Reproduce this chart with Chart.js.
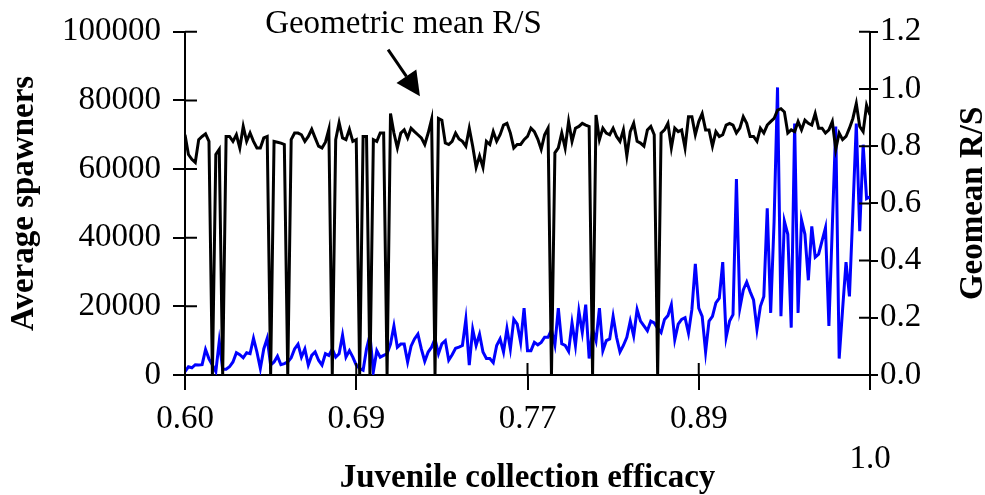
<!DOCTYPE html>
<html>
<head>
<meta charset="utf-8">
<script src="https://cdn.jsdelivr.net/npm/chart.js@4.4.1/dist/chart.umd.min.js"></script>
<style>
  html, body { margin: 0; padding: 0; background: #fff; }
  #wrap { width: 985px; height: 495px; }
</style>
</head>
<body>
<div id="wrap"><canvas id="chart" width="985" height="495"></canvas></div>
<script>
// x axis: 201 simulation runs, labelled every 50th run
const xTickLabels = ['0.60', '0.69', '0.77', '0.89', '1.0'];
const xTickStep = 50;

// Geometric mean R/S (right axis)
const geomeanRS = [
  0.840, 0.771, 0.754, 0.743, 0.823, 0.834, 0.843, 0.817, 0, 0.771,
  0.789, 0, 0.834, 0.834, 0.817, 0.840, 0.794, 0.869, 0.817, 0.846,
  0.817, 0.794, 0.794, 0.829, 0.834, 0, 0.817, 0.814, 0.811, 0.806,
  0, 0.823, 0.846, 0.846, 0.840, 0.817, 0.834, 0.859, 0.829, 0.800,
  0.794, 0.814, 0.859, 0, 0.823, 0.882, 0.829, 0.823, 0.859, 0.817,
  0.823, 0, 0.834, 0.834, 0, 0.823, 0.817, 0.846, 0.846, 0,
  0.914, 0.846, 0.794, 0.846, 0.857, 0.829, 0.863, 0.851, 0.840, 0.829,
  0.806, 0.846, 0.894, 0, 0.897, 0.891, 0.811, 0.806, 0.817, 0.846,
  0.825, 0.817, 0.800, 0.863, 0.800, 0.726, 0.766, 0.726, 0.817, 0.806,
  0.851, 0.817, 0.840, 0.874, 0.880, 0.846, 0.794, 0.806, 0.806, 0.823,
  0.834, 0.863, 0.851, 0.825, 0.789, 0.840, 0.863, 0, 0.777, 0.794,
  0.846, 0.794, 0.886, 0.817, 0.863, 0.869, 0.880, 0.874, 0.869, 0,
  0.909, 0.823, 0.863, 0.846, 0.840, 0.863, 0.834, 0.817, 0.857, 0.766,
  0.851, 0.880, 0.817, 0.811, 0.800, 0.857, 0.869, 0.840, 0, 0.846,
  0.857, 0.880, 0.794, 0.863, 0.851, 0.857, 0.794, 0.903, 0.903, 0.840,
  0.886, 0.914, 0.857, 0.857, 0.800, 0.851, 0.834, 0.840, 0.874, 0.880,
  0.874, 0.846, 0.863, 0.903, 0.880, 0.834, 0.834, 0.817, 0.863, 0.846,
  0.874, 0.886, 0.897, 0.926, 0.931, 0.920, 0.846, 0.857, 0.851, 0.886,
  0.857, 0.891, 0.880, 0.874, 0.914, 0.863, 0.863, 0.846, 0.857, 0.886,
  0.789, 0.846, 0.823, 0.834, 0.863, 0.897, 0.949, 0.869, 0.851, 0.943,
  0.909
];

// Average spawners (left axis)
const avgSpawners = [
  1000, 2400, 2100, 3000, 2900, 3000, 7400, 4700, 2900, 1000,
  9800, 1700, 1700, 2400, 3800, 6500, 5900, 5000, 6500, 6200,
  10700, 6700, 1900, 7600, 10700, 2900, 3800, 5500, 3000, 3300,
  3800, 5000, 7600, 9000, 5200, 7600, 2900, 5700, 6700, 4300,
  2900, 6200, 5700, 7600, 5200, 6200, 11600, 5200, 7100, 5200,
  2900, 1900, 1400, 7600, 11600, 1000, 7100, 5200, 5700, 6200,
  9000, 14300, 8100, 9000, 9000, 3800, 8400, 10500, 11900, 7600,
  4000, 6700, 8100, 10500, 6200, 9100, 10000, 4300, 5900, 7800,
  8100, 8600, 16200, 2900, 13300, 8600, 11900, 6700, 4800, 4800,
  3600, 8600, 10500, 6700, 13500, 7600, 16200, 14800, 9500, 19500,
  7100, 7100, 9500, 8800, 9500, 11000, 11000, 13200, 8800, 19500,
  9100, 8600, 6900, 15200, 8600, 18600, 12400, 20500, 4800, 13300,
  10000, 19500, 7100, 10000, 10500, 17100, 11000, 6700, 8600, 11000,
  15700, 11400, 19100, 15700, 14300, 12900, 15700, 15200, 13600, 12400,
  16200, 17300, 20500, 10300, 14800, 16200, 16700, 12200, 19100, 32400,
  19500, 17100, 6700, 15700, 17100, 21000, 22400, 32900, 11000, 15700,
  17600, 57100, 19500, 24800, 27100, 24300, 21900, 13300, 20000, 22900,
  48600, 18100, 44800, 83800, 17100, 44800, 41000, 13800, 73300, 18100,
  45200, 41000, 27600, 43300, 34300, 35200, 39100, 42900, 14300, 43300,
  72400, 4800, 19100, 32900, 22900, 47600, 73300, 41900, 67100, 51400,
  51900
];

// annotation, in data units (x = run index, y = right axis)
const noteText = 'Geometric mean R/S';
const noteAt = { x: 63.8, y: 1.225 };
const arrowFrom = { x: 59.3, y: 1.138 };
const arrowTo = { x: 68.6, y: 0.975 };
const rightTitle = 'Geomean R/S';

const serif = 'Liberation Serif';
Chart.defaults.font.family = serif;
Chart.defaults.font.size = 33;
Chart.defaults.color = '#000';

const toPoints = arr => arr.map((v, i) => ({ x: i, y: v }));

// tick marks that cross the axis lines (inside half)
const innerTicks = {
  id: 'innerTicks',
  afterDraw(chart) {
    const { ctx, chartArea, scales } = chart;
    ctx.save();
    ctx.strokeStyle = '#000';
    ctx.lineWidth = 2;
    ctx.beginPath();
    scales.x.ticks.forEach(t => {
      const px = scales.x.getPixelForValue(t.value);
      ctx.moveTo(px, chartArea.bottom);
      ctx.lineTo(px, chartArea.bottom - 12);
    });
    scales.y.ticks.forEach(t => {
      const py = scales.y.getPixelForValue(t.value);
      ctx.moveTo(chartArea.left, py);
      ctx.lineTo(chartArea.left + 12, py);
    });
    scales.y1.ticks.forEach(t => {
      const py = scales.y1.getPixelForValue(t.value);
      ctx.moveTo(chartArea.right, py);
      ctx.lineTo(chartArea.right - 11, py);
    });
    ctx.stroke();
    ctx.restore();
  }
};

// "Geometric mean R/S" label with arrow, and right axis title read bottom-up
const note = {
  id: 'note',
  afterDraw(chart) {
    const { ctx, scales, chartArea } = chart;
    const px = p => [scales.x.getPixelForValue(p.x), scales.y1.getPixelForValue(p.y)];
    const [tx, ty] = px(noteAt);
    const [x0, y0] = px(arrowFrom);
    const [x1, y1] = px(arrowTo);
    ctx.save();
    ctx.fillStyle = '#000';
    ctx.strokeStyle = '#000';
    ctx.font = '33px ' + serif;
    ctx.textAlign = 'center';
    ctx.textBaseline = 'middle';
    ctx.fillText(noteText, tx, ty);

    const ang = Math.atan2(y1 - y0, x1 - x0);
    const headLen = 24, headW = 12;
    const bx = x1 - headLen * Math.cos(ang), by = y1 - headLen * Math.sin(ang);
    ctx.lineWidth = 3;
    ctx.beginPath();
    ctx.moveTo(x0, y0);
    ctx.lineTo(bx, by);
    ctx.stroke();
    ctx.beginPath();
    ctx.moveTo(x1, y1);
    ctx.lineTo(bx + headW * Math.sin(ang), by - headW * Math.cos(ang));
    ctx.lineTo(bx - headW * Math.sin(ang), by + headW * Math.cos(ang));
    ctx.closePath();
    ctx.fill();

    ctx.translate(scales.y1.right - 12, (chartArea.top + chartArea.bottom) / 2);
    ctx.rotate(-Math.PI / 2);
    ctx.font = 'bold 33px ' + serif;
    ctx.fillText(rightTitle, 0, 0);
    ctx.restore();
  }
};

new Chart(document.getElementById('chart'), {
  type: 'line',
  data: {
    datasets: [
      {
        label: 'Geomean R/S',
        data: toPoints(geomeanRS),
        yAxisID: 'y1',
        borderColor: '#000',
        borderWidth: 3,
        pointRadius: 0,
        tension: 0
      },
      {
        label: 'Average spawners',
        data: toPoints(avgSpawners),
        yAxisID: 'y',
        borderColor: '#0000ff',
        borderWidth: 3,
        pointRadius: 0,
        tension: 0
      }
    ]
  },
  options: {
    responsive: false,
    animation: false,
    layout: { padding: { top: 25, left: 0, right: 0, bottom: 0 } },
    plugins: {
      legend: { display: false },
      tooltip: { enabled: false }
    },
    scales: {
      x: {
        type: 'linear',
        min: 0,
        max: 200,
        afterFit: s => { s.height = 120; },
        ticks: {
          stepSize: xTickStep,
          autoSkip: false,
          maxRotation: 0,
          padding: 10,
          color: '#000',
          callback: v => {
            const i = Math.round(v / xTickStep);
            return i === xTickLabels.length - 1 ? ['', xTickLabels[i]] : xTickLabels[i];
          }
        },
        grid: { drawOnChartArea: false, tickLength: 15, color: '#000', lineWidth: 2 },
        border: { color: '#000', width: 2 },
        title: {
          display: true,
          text: 'Juvenile collection efficacy',
          font: { weight: 'bold', size: 33 },
          color: '#000',
          padding: { top: 0, bottom: -3 }
        }
      },
      y: {
        position: 'left',
        min: 0,
        max: 100000,
        afterFit: s => { s.width = 185; },
        ticks: { stepSize: 20000, padding: 12, color: '#000', callback: v => String(v) },
        grid: { drawOnChartArea: false, tickLength: 12, color: '#000', lineWidth: 2 },
        border: { color: '#000', width: 2 },
        title: {
          display: true,
          text: 'Average spawners',
          font: { weight: 'bold', size: 33 },
          color: '#000',
          padding: { top: 5, bottom: 0 }
        }
      },
      y1: {
        position: 'right',
        min: 0,
        max: 1.2,
        afterFit: s => { s.width = 115; },
        ticks: {
          stepSize: 0.2,
          padding: 2,
          color: '#000',
          callback: v => v.toFixed(1)
        },
        grid: { drawOnChartArea: false, tickLength: 8, color: '#000', lineWidth: 2 },
        border: { color: '#000', width: 2 }
      }
    }
  },
  plugins: [innerTicks, note]
});
</script>
</body>
</html>
